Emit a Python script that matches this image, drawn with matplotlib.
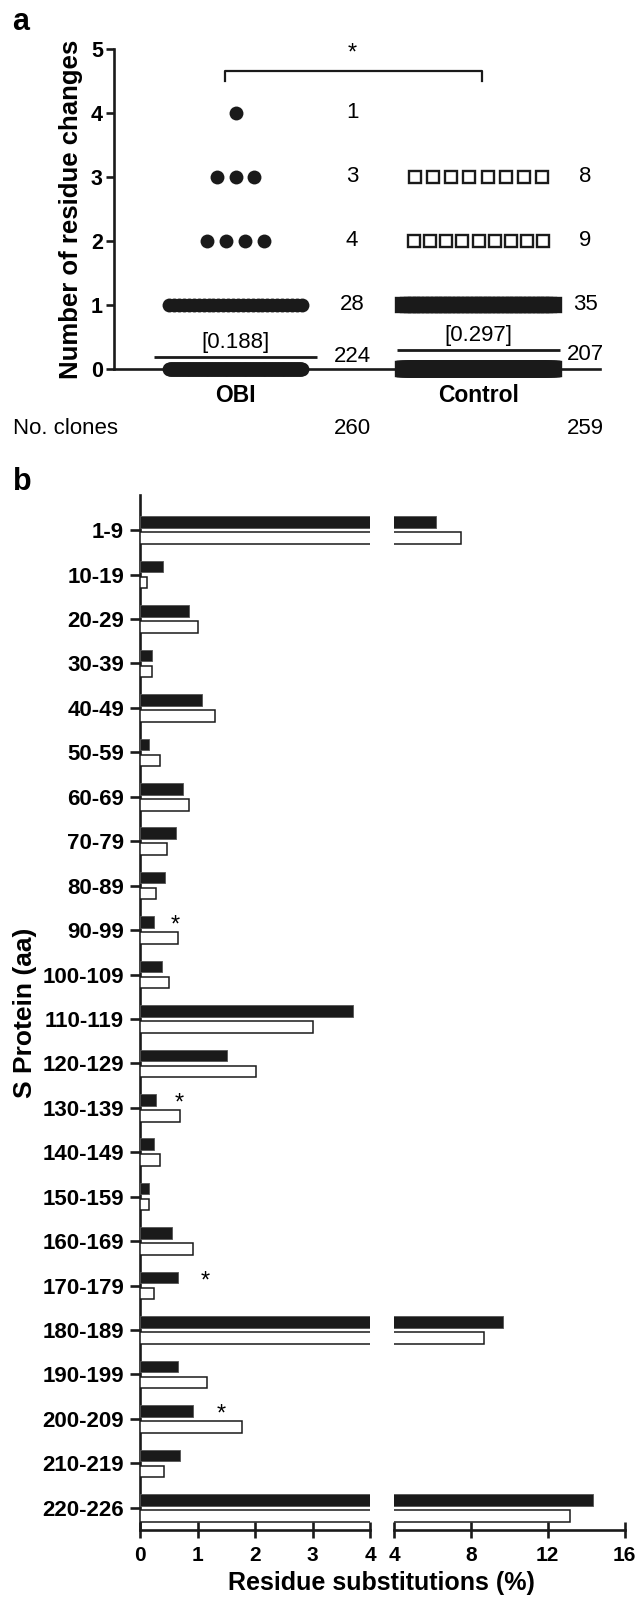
import matplotlib
matplotlib.use('Agg')
import matplotlib.pyplot as plt
import numpy as np
from matplotlib import transforms

plt.rcParams['font.family'] = ['Liberation Sans', 'DejaVu Sans']

# ---------------- data: panel a ----------------
residue_levels = [0, 1, 2, 3, 4]
obi_counts = [224, 28, 4, 3, 1]
control_counts = [207, 35, 9, 8, 0]
group_names = ['OBI', 'Control']
group_means = [0.188, 0.297]
clone_totals = [260, 259]

# ---------------- data: panel b ----------------
regions = ['1-9', '10-19', '20-29', '30-39', '40-49', '50-59', '60-69', '70-79',
           '80-89', '90-99', '100-109', '110-119', '120-129', '130-139', '140-149',
           '150-159', '160-169', '170-179', '180-189', '190-199', '200-209',
           '210-219', '220-226']
obi_pct = [6.2, 0.40, 0.86, 0.20, 1.08, 0.16, 0.74, 0.63, 0.43, 0.24, 0.39, 3.70,
           1.51, 0.28, 0.24, 0.16, 0.55, 0.66, 9.66, 0.66, 0.93, 0.70, 14.37]
control_pct = [7.5, 0.12, 1.0, 0.20, 1.31, 0.34, 0.85, 0.47, 0.27, 0.66, 0.51, 3.01,
               2.02, 0.70, 0.34, 0.16, 0.93, 0.24, 8.69, 1.16, 1.78, 0.42, 13.15]
significant_regions = ['90-99', '130-139', '170-179', '200-209']

W, H = 638, 1603
fig = plt.figure(figsize=(W / 100, H / 100), dpi=100)


def fx(px):
    return px / W


def fy(py):
    return 1 - py / H


BLACK = '#1a1a1a'
LW = 1.9

# =============== panel a ===============
axa = fig.add_axes([fx(114), fy(369), fx(600) - fx(114), fy(49) - fy(369)])
axa.set_xlim(0.5, 2.5)
axa.set_ylim(0, 5)


def spread(n, step, max_span):
    if n <= 1:
        return np.zeros(n)
    span = min(step * (n - 1), max_span)
    return np.linspace(-span / 2, span / 2, n)


xpos = [1, 2]
for lvl, n in zip(residue_levels, obi_counts):
    xs = xpos[0] + spread(n, 0.078, 0.545)
    axa.plot(xs, np.full(n, lvl), 'o', ms=10, color=BLACK, mec=BLACK, mew=0,
             clip_on=False, zorder=4)
for lvl, n in zip(residue_levels, control_counts):
    if n == 0:
        continue
    dense = n >= 20
    offs = spread(n, 0.075, 0.62 if dense else 0.53)
    face = BLACK if dense else 'white'
    axa.plot(xpos[1] + offs, np.full(n, lvl), 's', ms=9.2 if not dense else 10.5,
             mfc=face, mec=BLACK, mew=1.7, clip_on=False, zorder=4)

# mean lines + labels
for x, m in zip(xpos, group_means):
    axa.hlines(m, x - 0.337, x + 0.337, color=BLACK, lw=2.0, zorder=5, clip_on=False)
    axa.annotate(f'[{m:.3f}]', (x, m), xytext=(0, 3), textcoords='offset points',
                 ha='center', va='bottom', fontsize=16)

# counts at right of each group
for lvl, n in zip(residue_levels, obi_counts):
    axa.text(1.48, lvl + (0.19 if lvl == 0 else 0), str(n), ha='center', va='center',
             fontsize=16)
for lvl, n in zip(residue_levels, control_counts):
    if n == 0:
        continue
    axa.text(2.44, lvl + (0.22 if lvl == 0 else 0), str(n), ha='center', va='center',
             fontsize=16)

# significance bracket
axa.plot([0.955, 0.955, 2.014, 2.014], [4.5, 4.66, 4.66, 4.5], color=BLACK, lw=1.6,
         clip_on=False)
axa.text(1.48, 4.93, '*', ha='center', va='center', fontsize=17)

axa.spines['top'].set_visible(False)
axa.spines['right'].set_visible(False)
for s in ['left', 'bottom']:
    axa.spines[s].set_linewidth(LW)
    axa.spines[s].set_color(BLACK)
axa.set_yticks(residue_levels + [5])
axa.set_yticklabels([str(v) for v in residue_levels + [5]], fontsize=15.5,
                    fontweight='bold')
axa.set_xticks(xpos)
axa.set_xticklabels(group_names, fontsize=16.5, fontweight='bold')
axa.tick_params(axis='y', length=5.5, width=LW, pad=2.5, color=BLACK)
axa.tick_params(axis='x', length=3, width=LW, pad=8, color=BLACK)
axa.set_ylabel('Number of residue changes', fontsize=18.5, fontweight='bold',
               labelpad=6)

# No. clones row
tr = transforms.blended_transform_factory(axa.transData, fig.transFigure)
fig.text(fx(13), fy(429), 'No. clones', ha='left', va='center', fontsize=16)
for x, t in zip([1.48, 2.44], clone_totals):
    axa.text(x, fy(429), str(t), transform=tr, ha='center', va='center', fontsize=16)

fig.text(fx(12), fy(30), 'a', ha='left', va='baseline', fontsize=22, fontweight='bold')
fig.text(fx(13), fy(490), 'b', ha='left', va='baseline', fontsize=22, fontweight='bold')

# =============== panel b ===============
bottom, top = fy(1530), fy(495)
axl = fig.add_axes([fx(140), bottom, fx(370) - fx(140), top - bottom])
axr = fig.add_axes([fx(394), bottom, fx(624.5) - fx(394), top - bottom])

ypos = np.arange(len(regions))
bh = 0.26
off = 0.18
handles = None
for ax in (axl, axr):
    hc = ax.barh(ypos + off, control_pct, height=bh, color='white', edgecolor=BLACK,
                 linewidth=1.1, label='Control', zorder=3)
    ho = ax.barh(ypos - off, obi_pct, height=bh, color=BLACK, edgecolor='#555555',
                 linewidth=0.6, label='OBI', zorder=3)
    ax.set_ylim(22.5, -0.79)
    ax.spines['top'].set_visible(False)
    ax.spines['right'].set_visible(False)
    ax.spines['bottom'].set_linewidth(LW)
    ax.spines['bottom'].set_color(BLACK)
    ax.tick_params(axis='x', direction='inout', length=11, width=LW, pad=6,
                   labelsize=15, color=BLACK)
    if handles is None:
        handles = [hc, ho]

axl.set_xlim(0, 4)
axl.set_xticks([0, 1, 2, 3, 4])
axl.set_xticklabels(['0', '1', '2', '3', '4'], fontweight='bold', fontsize=15)
axl.spines['left'].set_linewidth(LW)
axl.spines['left'].set_color(BLACK)
axl.set_yticks(ypos)
axl.set_yticklabels(regions, fontsize=16, fontweight='bold')
axl.tick_params(axis='y', length=7.5, width=LW, pad=4, color=BLACK)
axl.set_ylabel('S Protein (aa)', fontsize=19, fontweight='bold', labelpad=4)

axr.set_xlim(4, 16)
axr.set_xticks([4, 8, 12, 16])
axr.set_xticklabels(['4', '8', '12', '16'], fontweight='bold', fontsize=15)
axr.spines['left'].set_visible(False)
axr.set_yticks([])

# significance stars
star_x = {'90-99': 0.61, '130-139': 0.68, '170-179': 1.13, '200-209': 1.42}
for r in significant_regions:
    i = regions.index(r)
    axl.text(star_x[r], i - 0.1, '*', ha='center', va='center', fontsize=17, zorder=5)

fig.text(fx(381), fy(1583), 'Residue substitutions (%)', ha='center', va='center',
         fontsize=18, fontweight='bold')

axl.legend(handles, ['Control', 'OBI'], loc='center left',
           bbox_to_anchor=(fx(409), fy(787)), bbox_transform=fig.transFigure,
           frameon=False, borderpad=0, borderaxespad=0, handlelength=1.5,
           handleheight=0.78, handletextpad=0.85, labelspacing=0.55, fontsize=17)

fig.savefig('out.png', dpi=100)
